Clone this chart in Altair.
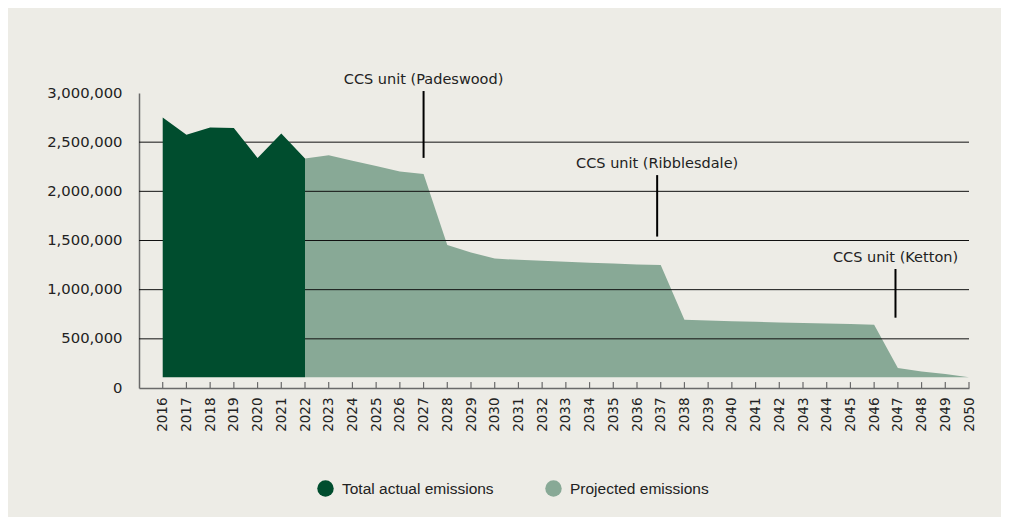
import altair as alt
import pandas as pd

# ---- data ----
actual_years = [2016, 2017, 2018, 2019, 2020, 2021, 2022]
actual_values = [2750000, 2575000, 2650000, 2645000, 2340000, 2587000, 2333000]

proj_years = list(range(2022, 2051))
proj_values = [2333000, 2367000, 2312000, 2258000, 2201000, 2177000, 1453000,
               1378000, 1317000, 1303000, 1293000, 1283000, 1273000, 1266000,
               1256000, 1250000, 694000, 687000, 680000, 673000, 667000,
               660000, 656000, 650000, 643000, 203000, 169000, 142000, 110000]

baseline = 110000
series_names = ["Total actual emissions", "Projected emissions"]
series_colors = ["#004D2E", "#88A996"]

grid_values = [500000, 1000000, 1500000, 2000000, 2500000]
y_ticks = [0, 500000, 1000000, 1500000, 2000000, 2500000, 3000000]
x_ticks = list(range(2016, 2051))
tick_len = 60000

ann_labels = ["CCS unit (Padeswood)", "CCS unit (Ribblesdale)", "CCS unit (Ketton)"]
ann_years = [2027, 2036.85, 2046.9]
ann_top = [3020000, 2165000, 1210000]
ann_bottom = [2340000, 1540000, 715000]

FONT = "DejaVu Sans"
TXT = "#222222"
AXIS_GRAY = "#6a6a6a"

# ---- tables (common field names: year / year2 / value / value2) ----
df = pd.DataFrame({
    "year": actual_years + proj_years,
    "value": actual_values + proj_values,
    "series": [series_names[0]] * len(actual_years) + [series_names[1]] * len(proj_years),
})
df["value2"] = baseline

grid_df = pd.DataFrame({"value": grid_values, "year": 2015, "year2": 2050})
ticks_df = pd.DataFrame({"year": x_ticks, "value": 0, "value2": tick_len})
ann_df = pd.DataFrame({"label": ann_labels, "year": ann_years, "value": ann_top, "value2": ann_bottom})

xscale = alt.Scale(domain=[2015, 2050], nice=False, zero=False)
yscale = alt.Scale(domain=[0, 3000000], nice=False)

xaxis = alt.Axis(
    values=x_ticks, format="d", labelAngle=-90, labelFont=FONT, labelFontSize=13.5,
    labelColor=TXT, ticks=False, labelPadding=9, domainColor=AXIS_GRAY,
    domainWidth=1.5, grid=False, title=None, labelOverlap=False, labelFlush=False,
)
yaxis = alt.Axis(
    values=y_ticks, format=",.0f", labelFont=FONT, labelFontSize=14.8, labelColor=TXT,
    ticks=False, labelPadding=17, domainColor=AXIS_GRAY, domainWidth=1.5,
    grid=False, title=None, labelOverlap=False, labelFlush=False,
)

X = alt.X("year:Q", scale=xscale, axis=xaxis, title=None)
Y = alt.Y("value:Q", scale=yscale, axis=yaxis, title=None)

color = alt.Color(
    "series:N",
    scale=alt.Scale(domain=series_names, range=series_colors),
    legend=alt.Legend(
        title=None, orient="none", direction="horizontal",
        legendX=178, legendY=387,
        symbolType="circle", symbolSize=270, symbolStrokeWidth=0, symbolOpacity=1,
        labelFont="Liberation Sans", labelFontSize=15.5, labelColor=TXT,
        labelOffset=8, columnPadding=51,
    ),
)

base = alt.Chart(df)

proj_area = base.transform_filter(alt.datum.series == series_names[1]).mark_area(opacity=1).encode(
    x=X, y=Y, y2="value2:Q", color=color,
)

grid = alt.Chart(grid_df).mark_rule(color="#111111", strokeWidth=1).encode(
    x=X, x2="year2:Q", y=Y,
)

act_area = base.transform_filter(alt.datum.series == series_names[0]).mark_area(opacity=1).encode(
    x=X, y=Y, y2="value2:Q", color=color,
)

ticks = alt.Chart(ticks_df).mark_rule(color=AXIS_GRAY, strokeWidth=1.2).encode(
    x=X, y=Y, y2="value2:Q",
)

ann_lines = alt.Chart(ann_df).mark_rule(color="#000000", strokeWidth=2).encode(
    x=X, y=Y, y2="value2:Q",
)
ann_text = alt.Chart(ann_df).mark_text(
    font=FONT, fontSize=14.5, color=TXT, align="center", baseline="bottom", dy=-4
).encode(
    x=X, y=Y, text="label:N",
)

chart = alt.layer(proj_area, grid, act_area, ticks, ann_lines, ann_text).properties(
    width=830, height=295,
    autosize=alt.AutoSizeParams(type="none"),
    padding={"left": 131, "top": 85, "right": 32, "bottom": 129},
    background="#EDECE6",
).configure_view(stroke=None)

chart.save("out.html", embed_options={"renderer": "svg", "actions": False})
